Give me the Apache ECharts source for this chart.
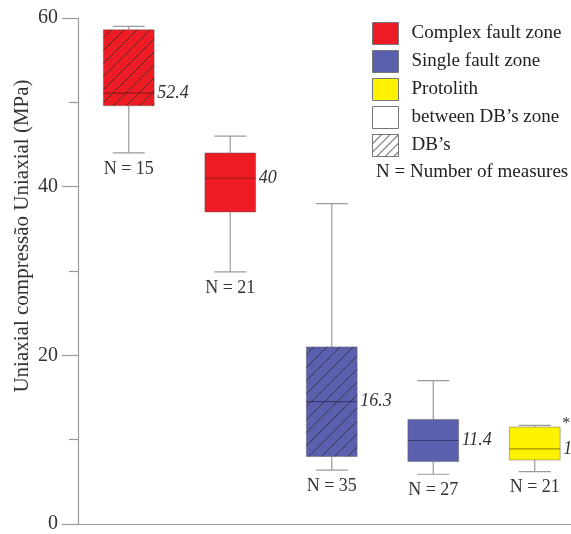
<!DOCTYPE html>
<html>
<head>
<meta charset="utf-8">
<script src="https://cdn.jsdelivr.net/npm/echarts@6/dist/echarts.min.js"></script>
<style>html,body{margin:0;padding:0;background:#fff;}#c{width:571px;height:534px;}</style>
</head>
<body>
<div id="c"></div>
<script>
// ---- data ----
var categories = ['Complex DB', 'Complex', 'Single DB', 'Single', 'Protolith'];
var groups = ['Complex fault zone', 'Complex fault zone', 'Single fault zone', 'Single fault zone', 'Protolith'];
var hatched = [true, false, true, false, false];
var whiskerLow = [44, 29.9, 6.4, 5.9, 6.2];
var q1 = [49.6, 37, 8, 7.4, 7.6];
var median = [51.1, 41, 14.5, 9.9, 8.9];
var q3 = [58.6, 44, 21, 12.4, 11.5];
var whiskerHigh = [59, 46, 38, 17, 11.7];
var valueLabels = ['52.4', '40', '16.3', '11.4', '1'];
var nCounts = [15, 21, 35, 27, 21];
var outlierFlags = ['', '', '', '', '*'];
var legendNames = ['Complex fault zone', 'Single fault zone', 'Protolith', 'between DB\u2019s zone', 'DB\u2019s'];
var yTicks = [0, 20, 40, 60];
var yTitle = 'Uniaxial compress\u00e3o Uniaxial (MPa)';

var colors = {
  'Complex fault zone': '#ED1C24',
  'Single fault zone': '#5B60AE',
  'Protolith': '#FFF200'
};
var medianColors = {
  'Complex fault zone': '#7a1a1a',
  'Single fault zone': '#2f3263',
  'Protolith': '#8a7a00'
};
var SERIF = '"Liberation Serif", "DejaVu Serif", serif';

function renderBox(params, api) {
  var i = api.value(0);
  var g = groups[i];
  var band = api.size([1, 0])[0];
  var bw = band * 0.5;
  var cw = band * 0.315;
  var pLow = api.coord([i, api.value(1)]);
  var pQ1 = api.coord([i, api.value(2)]);
  var pMed = api.coord([i, api.value(3)]);
  var pQ3 = api.coord([i, api.value(4)]);
  var pHigh = api.coord([i, api.value(5)]);
  var cx = pMed[0];
  var x0 = cx - bw / 2, x1 = cx + bw / 2;
  var y0 = pQ3[1], y1 = pQ1[1];
  var wStyle = { stroke: '#9a9a9a', lineWidth: 1.2 };
  var children = [
    { type: 'line', shape: { x1: cx, y1: pHigh[1], x2: cx, y2: y0 }, style: wStyle },
    { type: 'line', shape: { x1: cx, y1: y1, x2: cx, y2: pLow[1] }, style: wStyle },
    { type: 'line', shape: { x1: cx - cw / 2, y1: pHigh[1], x2: cx + cw / 2, y2: pHigh[1] }, style: wStyle },
    { type: 'line', shape: { x1: cx - cw / 2, y1: pLow[1], x2: cx + cw / 2, y2: pLow[1] }, style: wStyle },
    { type: 'rect', shape: { x: x0, y: y0, width: bw, height: y1 - y0 },
      style: { fill: colors[g], stroke: 'rgba(90,90,90,0.45)', lineWidth: 1 } }
  ];
  if (hatched[i]) {
    var step = 13;
    for (var c = x0 + y0 + step * 0.6; c < x1 + y1; c += step) {
      var xs = Math.max(x0, c - y1), xe = Math.min(x1, c - y0);
      if (xe > xs) {
        children.push({ type: 'line', shape: { x1: xs, y1: c - xs, x2: xe, y2: c - xe },
          style: { stroke: 'rgba(40,40,40,0.75)', lineWidth: 1 } });
      }
    }
  }
  children.push({ type: 'line', shape: { x1: x0, y1: pMed[1], x2: x1, y2: pMed[1] },
    style: { stroke: medianColors[g], lineWidth: 1.2, opacity: 0.8 } });
  children.push({ type: 'text', x: x1 + 3, y: pMed[1],
    style: { text: valueLabels[i], fill: '#333', font: 'italic 18px ' + SERIF, verticalAlign: 'middle', align: 'left' } });
  children.push({ type: 'text', x: cx, y: pLow[1] + 16,
    style: { text: 'N = ' + nCounts[i], fill: '#333', font: '18px ' + SERIF, verticalAlign: 'middle', align: 'center' } });
  if (outlierFlags[i]) {
    children.push({ type: 'text', x: x1 + 2, y: pHigh[1] - 2,
      style: { text: outlierFlags[i], fill: '#333', font: '16px ' + SERIF, verticalAlign: 'middle', align: 'left' } });
  }
  return { type: 'group', children: children };
}

function groupData(name) {
  var out = [];
  for (var i = 0; i < categories.length; i++) {
    if (groups[i] === name) out.push([i, whiskerLow[i], q1[i], median[i], q3[i], whiskerHigh[i]]);
  }
  return out;
}

var series = [];
['Complex fault zone', 'Single fault zone', 'Protolith'].forEach(function (nm) {
  series.push({ type: 'custom', name: nm, renderItem: renderBox, data: groupData(nm),
    itemStyle: { color: colors[nm] }, encode: { x: 0, y: [1, 2, 3, 4, 5] }, clip: false });
});
series.push({ type: 'custom', name: legendNames[3], renderItem: function () { return { type: 'group', children: [] }; }, data: [], itemStyle: { color: '#fff' } });
series.push({ type: 'custom', name: legendNames[4], renderItem: function () { return { type: 'group', children: [] }; }, data: [], itemStyle: { color: '#fff' } });

var hatchDecal = { symbol: 'rect', symbolSize: 1, color: 'rgba(90,90,90,0.9)', backgroundColor: '#fff',
  dashArrayX: [1, 0], dashArrayY: [1, 5], rotation: -Math.PI / 4 };

var option = {
  animation: false,
  backgroundColor: '#fff',
  grid: { left: 78, top: 18, bottom: 10, width: 507.5, outerBoundsMode: 'none', containLabel: false },
  legend: {
    orient: 'vertical', left: 372, top: 22, padding: 0, itemWidth: 26, itemHeight: 22, itemGap: 5,
    selectedMode: false, icon: 'rect',
    textStyle: { fontFamily: SERIF, fontSize: 19, color: '#222', padding: [0, 0, 0, 8] },
    data: [
      { name: legendNames[0], itemStyle: { color: colors['Complex fault zone'], borderColor: '#777', borderWidth: 1 } },
      { name: legendNames[1], itemStyle: { color: colors['Single fault zone'], borderColor: '#777', borderWidth: 1 } },
      { name: legendNames[2], itemStyle: { color: colors['Protolith'], borderColor: '#777', borderWidth: 1 } },
      { name: legendNames[3], itemStyle: { color: '#fff', borderColor: '#777', borderWidth: 1 } },
      { name: legendNames[4], itemStyle: { color: '#fff', borderColor: '#777', borderWidth: 1, decal: hatchDecal } }
    ]
  },
  graphic: [{
    type: 'text', left: 376, top: 163,
    style: { text: 'N = Number of measures', fill: '#222', font: '19px ' + SERIF }
  }, {
    type: 'text', x: 22, y: 236, rotation: Math.PI / 2,
    style: { text: yTitle, fill: '#333', font: '21px ' + SERIF, align: 'center', verticalAlign: 'middle' }
  }],
  xAxis: {
    type: 'category', data: categories, boundaryGap: true,
    axisLine: { lineStyle: { color: '#9a9a9a', width: 1.2 } },
    axisTick: { show: false }, axisLabel: { show: false }
  },
  yAxis: {
    type: 'value', min: yTicks[0], max: yTicks[yTicks.length - 1], interval: 20,
    axisLine: { show: true, lineStyle: { color: '#9a9a9a', width: 1.2 } },
    axisTick: { show: true, length: 16, lineStyle: { color: '#9a9a9a', width: 1.2 } },
    minorTick: { show: true, splitNumber: 2, length: 9, lineStyle: { color: '#9a9a9a', width: 1.2 } },
    splitLine: { show: false },
    axisLabel: { fontFamily: SERIF, fontSize: 20, color: '#333', margin: 20 }
  },
  series: series
};
var chart = echarts.init(document.getElementById('c'));
chart.setOption(option);
</script>
</body>
</html>
